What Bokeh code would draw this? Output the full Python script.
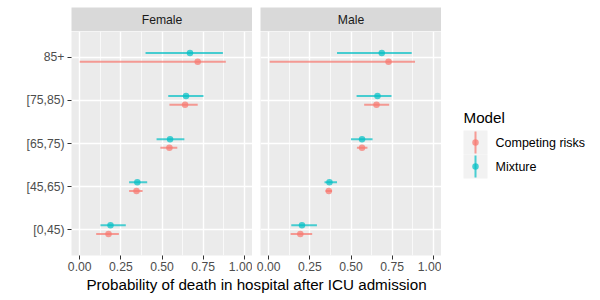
from bokeh.plotting import figure
from bokeh.models import ColumnDataSource, Range1d, FactorRange, FixedTicker
from bokeh.layouts import row, column
from bokeh.transform import dodge
from bokeh.core.properties import value
from bokeh.embed import file_html
from bokeh.resources import INLINE

# ---------------- data ----------------
ages = ["[0,45)", "[45,65)", "[65,75)", "[75,85)", "85+"]
sexes = ["Female", "Male"]
models = ["Competing risks", "Mixture"]
model_colors = ["#F8766D", "#00BFC4"]
x_ticks = [0.0, 0.25, 0.5, 0.75, 1.0]
x_tick_labels = ["0.00", "0.25", "0.50", "0.75", "1.00"]
x_title = "Probability of death in hospital after ICU admission"
legend_title = "Model"

female_cr_est = [0.175, 0.345, 0.545, 0.640, 0.717]
female_cr_lo = [0.100, 0.300, 0.490, 0.545, 0.000]
female_cr_hi = [0.238, 0.382, 0.593, 0.717, 0.888]

female_mix_est = [0.187, 0.350, 0.549, 0.646, 0.670]
female_mix_lo = [0.126, 0.300, 0.467, 0.538, 0.400]
female_mix_hi = [0.280, 0.410, 0.636, 0.752, 0.870]

male_cr_est = [0.192, 0.365, 0.567, 0.655, 0.728]
male_cr_lo = [0.133, 0.345, 0.536, 0.580, 0.006]
male_cr_hi = [0.264, 0.385, 0.600, 0.732, 0.889]

male_mix_est = [0.202, 0.369, 0.567, 0.661, 0.687]
male_mix_lo = [0.137, 0.339, 0.500, 0.534, 0.415]
male_mix_hi = [0.293, 0.415, 0.631, 0.746, 0.869]

panel_data = {
    "Female": [(female_cr_est, female_cr_lo, female_cr_hi),
               (female_mix_est, female_mix_lo, female_mix_hi)],
    "Male": [(male_cr_est, male_cr_lo, male_cr_hi),
             (male_mix_est, male_mix_lo, male_mix_hi)],
}

FONT = "Liberation Sans"
PANEL_BG = "#EBEBEB"
STRIP_BG = "#D9D9D9"
ALPHA = 0.7
dodge_offsets = [-0.1, 0.1]

SMALL = "12.2px"
LARGE = "15.2px"

TOP = 7
LEFT_F = 71
LEFT_M = 8
FRAME_W = 181
FRAME_H = 224
STRIP_H = 24
BOTTOM = 20
TITLE_H = 18


def make_strip(label, left):
    s = figure(width=left + FRAME_W, height=TOP + STRIP_H, x_range=Range1d(0, 1), y_range=Range1d(0, 1),
               x_axis_location=None, y_axis_location=None, output_backend="svg",
               toolbar_location=None, min_border_left=left, min_border_right=0,
               min_border_top=TOP, min_border_bottom=0)
    s.grid.visible = False
    s.background_fill_color = STRIP_BG
    s.border_fill_color = "white"
    s.outline_line_color = None
    s.text(x=[0.5], y=[0.5], text=[label], text_align="center", text_baseline="middle",
           text_font=value(FONT), text_font_size=SMALL, text_color="#1A1A1A")
    return s


def make_panel(sex, left, show_y):
    p = figure(width=left + FRAME_W, height=FRAME_H + BOTTOM,
               x_range=Range1d(-0.05, 1.05),
               y_range=FactorRange(*ages, range_padding=0.04),
               output_backend="svg", toolbar_location=None,
               min_border_left=left, min_border_right=0, min_border_top=0,
               min_border_bottom=BOTTOM)
    p.background_fill_color = PANEL_BG
    p.border_fill_color = "white"
    p.outline_line_color = None

    p.xaxis.ticker = FixedTicker(ticks=x_ticks, minor_ticks=[0.125, 0.375, 0.625, 0.875])
    p.xaxis.major_label_overrides = {t: l for t, l in zip(x_ticks, x_tick_labels)}
    for ax in (p.xaxis, p.yaxis):
        ax.axis_line_color = None
        ax.major_tick_line_color = "#333333"
        ax.major_tick_line_width = 1
        ax.major_tick_in = 0
        ax.major_tick_out = 4
        ax.minor_tick_line_color = None
        ax.major_label_text_font = FONT
        ax.major_label_text_font_size = SMALL
        ax.major_label_text_color = "#4D4D4D"
        ax.major_label_standoff = 3
    p.xaxis.major_label_standoff = 2
    p.yaxis.visible = show_y

    p.xgrid.grid_line_color = "white"
    p.xgrid.grid_line_width = 1.4
    p.xgrid.minor_grid_line_color = "white"
    p.xgrid.minor_grid_line_width = 0.7
    p.ygrid.grid_line_color = "white"
    p.ygrid.grid_line_width = 1.4

    for (est, lo, hi), color, off in zip(panel_data[sex], model_colors, dodge_offsets):
        src = ColumnDataSource(dict(age=ages, est=est, lo=lo, hi=hi))
        yd = dodge("age", off, range=p.y_range)
        p.segment(x0="lo", y0=yd, x1="hi", y1=yd, line_color=color, line_alpha=ALPHA,
                  line_width=2, source=src)
        p.scatter(x="est", y=yd, size=6.5, fill_color=color, fill_alpha=ALPHA,
                  line_color=None, source=src)
    return p


strip_f = make_strip(sexes[0], LEFT_F)
panel_f = make_panel(sexes[0], LEFT_F, True)
strip_m = make_strip(sexes[1], LEFT_M)
panel_m = make_panel(sexes[1], LEFT_M, False)

# ---------------- legend (drawn in its own small canvas) ----------------
LEG_W = 151
LEG_H = TOP + STRIP_H + FRAME_H + BOTTOM
leg = figure(width=LEG_W, height=LEG_H, x_range=Range1d(0, LEG_W), y_range=Range1d(LEG_H, 0),
             x_axis_location=None, y_axis_location=None, output_backend="svg",
             toolbar_location=None, min_border=0)
leg.grid.visible = False
leg.outline_line_color = None
leg.background_fill_color = "white"
leg.border_fill_color = "white"

key_x = 34
key_ys = [142, 166]
leg.text(x=[22], y=[116.5], text=[legend_title], text_align="left", text_baseline="middle",
         text_font=value(FONT), text_font_size=LARGE, text_color="black")
leg.rect(x=[key_x] * 2, y=key_ys, width=24, height=24, fill_color="#F2F2F2", line_color=None)
leg.segment(x0=[key_x] * 2, y0=[k - 11 for k in key_ys], x1=[key_x] * 2, y1=[k + 11 for k in key_ys],
            line_color=model_colors, line_alpha=ALPHA, line_width=2)
leg.scatter(x=[key_x] * 2, y=key_ys, size=6.5, fill_color=model_colors, fill_alpha=ALPHA,
            line_color=None)
leg.text(x=[54] * 2, y=[k + 0.5 for k in key_ys], text=models, text_align="left",
         text_baseline="middle", text_font=value(FONT), text_font_size="12.5px",
         text_color="black")

# ---------------- x-axis title ----------------
title_fig = figure(width=LEFT_F + FRAME_W + LEFT_M + FRAME_W, height=TITLE_H, x_range=Range1d(0, 1),
                   y_range=Range1d(0, 1), x_axis_location=None, y_axis_location=None,
                   output_backend="svg", toolbar_location=None, min_border_left=LEFT_F,
                   min_border_right=0, min_border_top=0, min_border_bottom=0)
title_fig.grid.visible = False
title_fig.outline_line_color = None
title_fig.background_fill_color = "white"
title_fig.border_fill_color = "white"
title_fig.text(x=[0.5], y=[0.5], text=[x_title], text_align="center", text_baseline="middle",
               text_font=value(FONT), text_font_size=LARGE, text_color="black")

layout = column(row(column(strip_f, panel_f), column(strip_m, panel_m), leg), title_fig)

open("out.html", "w").write(file_html(layout, INLINE))
